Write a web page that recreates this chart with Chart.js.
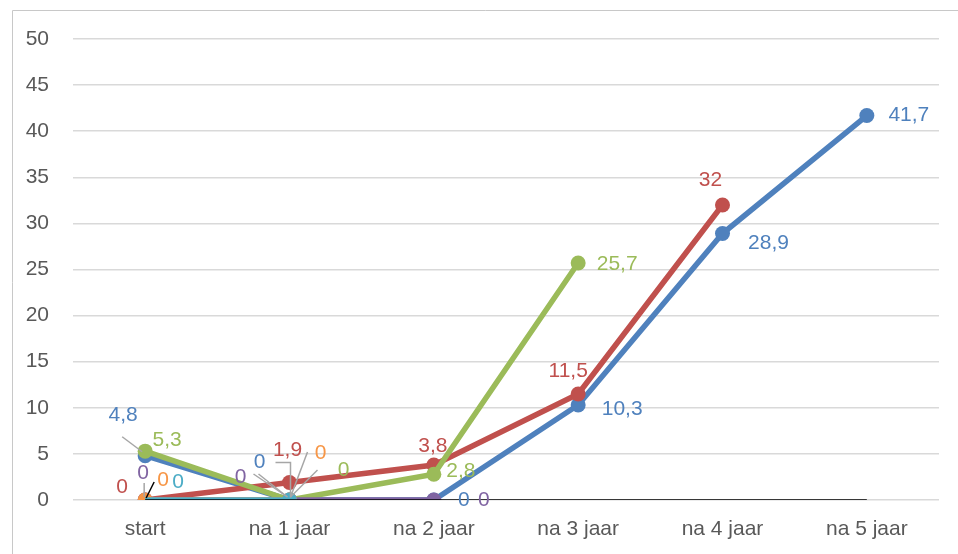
<!DOCTYPE html>
<html>
<head>
<meta charset="utf-8">
<script src="https://cdn.jsdelivr.net/npm/chart.js@4/dist/chart.umd.min.js"></script>
<style>
html,body{margin:0;padding:0;background:#fff;}
#wrap{width:958px;height:554px;position:relative;}
</style>
</head>
<body>
<div id="wrap"><canvas id="c" width="958" height="554"></canvas></div>
<script>
const categories = ['start', 'na 1 jaar', 'na 2 jaar', 'na 3 jaar', 'na 4 jaar', 'na 5 jaar'];
const blueSeries   = [4.8, 0, 0, 10.3, 28.9, 41.7];
const redSeries    = [0, 1.9, 3.8, 11.5, 32, null];
const greenSeries  = [5.3, 0, 2.8, 25.7, null, null];
const purpleSeries = [0, 0, 0, null, null, null];
const tealSeries   = [0, 0, null, null, null, null];
const orangeSeries = [0, 0, null, null, null, null];
const baseSeries   = [0, 0, 0, 0, 0, 0];
const yMin = 0, yMax = 50, yStep = 5;

const COLORS = {
  blue: '#4F81BD', red: '#C0504D', green: '#9BBB59',
  purple: '#8064A2', teal: '#4BACC6', orange: '#F79646'
};

// label placement (offsets from the point, in px) and optional leader lines
const labelLayout = {
  blue:   [{dx:-22,dy:-41,lead:[[-23,-19],[-3,-4]]},{dx:-30,dy:-38,lead:[[-31,-26],[-2,-3]]},{dx:30,dy:0},{dx:44,dy:4},{dx:46,dy:10},{dx:42,dy:0}],
  red:    [{dx:-23,dy:-13},{dx:-2,dy:-32,lead:[[-14,-20],[1,-20],[1,15]]},{dx:-1,dy:-19},{dx:-10,dy:-23},{dx:-12,dy:-25},null],
  green:  [{dx:22,dy:-11},{dx:54,dy:-30,lead:[[28,-30],[1,-3]]},{dx:27,dy:-3},{dx:39,dy:1},null,null],
  purple: [{dx:-2,dy:-27,lead:[[-1,-17],[-1,-3]]},{dx:-49,dy:-23,lead:[[-36,-26],[-2,-3]]},{dx:50,dy:0},null,null,null],
  teal:   [{dx:33,dy:-18},null,null,null,null,null],
  orange: [{dx:18,dy:-20,lead:[[9,-18],[1,-2]],leadColor:'#000'},{dx:31,dy:-47,lead:[[18,-48],[1,-3]]},null,null,null,null]
};

function mkSet(key, data, order, radius) {
  return {
    label: key, data: data, key: key,
    borderColor: COLORS[key], backgroundColor: COLORS[key],
    pointBackgroundColor: COLORS[key], pointBorderColor: COLORS[key],
    borderWidth: 5.5, pointRadius: radius === undefined ? 7.5 : radius,
    pointHoverRadius: 7.5, pointBorderWidth: 0,
    tension: 0, spanGaps: false, order: order
  };
}

const outerBorder = {
  id: 'outerBorder',
  beforeDraw(chart) {
    const ctx = chart.ctx;
    ctx.save();
    ctx.strokeStyle = '#C8C8C8';
    ctx.lineWidth = 1;
    ctx.beginPath();
    ctx.moveTo(12.5, 554);
    ctx.lineTo(12.5, 10.5);
    ctx.lineTo(958, 10.5);
    ctx.stroke();
    ctx.restore();
  }
};

const dataLabels = {
  id: 'dataLabels',
  afterDatasetsDraw(chart) {
    const ctx = chart.ctx;
    ctx.save();
    chart.data.datasets.forEach((ds, di) => {
      const lay = labelLayout[ds.key];
      if (!lay) return;
      const meta = chart.getDatasetMeta(di);
      meta.data.forEach((pt, i) => {
        const l = lay[i];
        if (!l || ds.data[i] === null) return;
        const px = pt.x, py = pt.y;
        if (l.lead) {
          ctx.strokeStyle = l.leadColor || '#A6A6A6';
          ctx.lineWidth = 1.5;
          ctx.beginPath();
          l.lead.forEach((p, k) => {
            if (k === 0) ctx.moveTo(px + p[0], py + p[1]);
            else ctx.lineTo(px + p[0], py + p[1]);
          });
          ctx.stroke();
        }
      });
      meta.data.forEach((pt, i) => {
        const l = lay[i];
        if (!l || ds.data[i] === null) return;
        ctx.fillStyle = COLORS[ds.key];
        ctx.font = '21px "Liberation Sans", Arial, sans-serif';
        ctx.textAlign = 'center';
        ctx.textBaseline = 'middle';
        ctx.fillText(String(ds.data[i]).replace('.', ','), pt.x + l.dx, pt.y + l.dy);
      });
    });
    ctx.restore();
  }
};

new Chart(document.getElementById('c'), {
  type: 'line',
  data: {
    labels: categories,
    datasets: [
      mkSet('blue', blueSeries, 7),
      mkSet('red', redSeries, 6),
      mkSet('green', greenSeries, 5),
      mkSet('purple', purpleSeries, 4),
      mkSet('orange', orangeSeries, 3),
      mkSet('teal', tealSeries, 2, [0, 7.5]),
      {
        label: 'base', data: baseSeries, key: 'base',
        borderColor: '#000', borderWidth: 1.5, pointRadius: 0, tension: 0, order: 1
      }
    ]
  },
  options: {
    responsive: false,
    animation: false,
    devicePixelRatio: 1,
    layout: { padding: { left: 12, top: 39, right: 19, bottom: 0 } },
    plugins: {
      legend: { display: false },
      tooltip: { enabled: false },
      title: { display: false }
    },
    scales: {
      x: {
        type: 'category',
        offset: true,
        grid: { display: false, drawTicks: false },
        border: { display: false },
        ticks: {
          color: '#595959', padding: 17, maxRotation: 0,
          font: { family: '"Liberation Sans", Arial, sans-serif', size: 21 }
        },
        afterFit(s) { s.height = 54; }
      },
      y: {
        min: yMin, max: yMax,
        grid: { color: '#D9D9D9', lineWidth: 1.5, drawTicks: false },
        border: { display: false },
        ticks: {
          stepSize: yStep, color: '#595959', padding: 24,
          font: { family: '"Liberation Sans", Arial, sans-serif', size: 21 }
        },
        afterFit(s) { s.width = 61; }
      }
    }
  },
  plugins: [outerBorder, dataLabels]
});
</script>
</body>
</html>
